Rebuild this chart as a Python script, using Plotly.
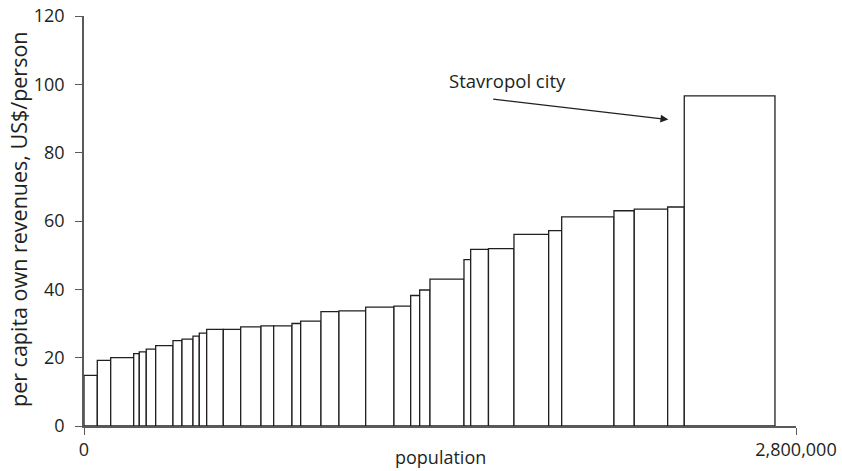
import numpy as np
import plotly.graph_objects as go

# Municipal units sorted by per capita own revenues
population = [52300, 52700, 90400, 22000, 27500, 37000, 68000, 35400, 43300, 24800,
              29100, 65300, 68400, 79800, 49900, 72000, 34200, 79800, 70800, 105000,
              111300, 65700, 35400, 40500, 133700, 26300, 70000, 100300, 136500, 51100,
              205700, 79800, 131300, 65300, 356700]
revenue_per_capita = [14.8, 19.2, 20.0, 21.2, 21.7, 22.5, 23.5, 25.0, 25.4, 26.3,
                      27.2, 28.3, 28.3, 29.0, 29.3, 29.3, 30.0, 30.7, 33.5, 33.7,
                      34.8, 35.1, 38.2, 39.8, 43.0, 48.7, 51.7, 51.9, 56.1, 57.2,
                      61.2, 63.0, 63.5, 64.1, 96.6]
x_tick_vals = [0, 2800000]
x_tick_text = ["0", "2,800,000"]
y_tick_vals = [0, 20, 40, 60, 80, 100, 120]

left_edges = np.concatenate([[0], np.cumsum(population)[:-1]])

font_family = "Open Sans, Lato, sans-serif"
ink = "#231f20"
axis_col = "#5a5a5a"

fig = go.Figure()
fig.add_trace(go.Bar(
    x=left_edges,
    y=revenue_per_capita,
    width=population,
    offset=0,
    marker=dict(color="white", line=dict(color=ink, width=1.3)),
    hoverinfo="skip",
))

fig.update_layout(
    width=842, height=471,
    margin=dict(l=84, r=46, t=16, b=45),
    paper_bgcolor="white", plot_bgcolor="white",
    showlegend=False,
    font=dict(family=font_family, color=ink, size=18),
    xaxis=dict(
        range=[0, 2800000], tickvals=x_tick_vals, ticktext=x_tick_text,
        showgrid=False, zeroline=False, showline=True, linecolor=axis_col, linewidth=1.5,
        ticks="outside", ticklen=7, tickcolor=axis_col, tickwidth=1.3,
        tickfont=dict(size=18, color=ink), ticklabelstandoff=0,
        automargin=False,
    ),
    yaxis=dict(
        range=[0, 120], tickvals=y_tick_vals,
        showgrid=False, zeroline=False, showline=True, linecolor=axis_col, linewidth=1.5,
        ticks="outside", ticklen=7, tickcolor=axis_col, tickwidth=1.3,
        tickfont=dict(size=18, color=ink), ticklabelstandoff=7,
        automargin=False,
    ),
)

# Axis titles
fig.add_annotation(
    x=0.5, y=0, xref="paper", yref="paper", yanchor="middle", yshift=-31,
    text="population", showarrow=False, font=dict(size=18, color=ink), borderpad=0,
)
fig.add_annotation(
    x=0, y=0.5, xref="paper", yref="paper", xanchor="center", yanchor="middle",
    xshift=-66, yshift=2, textangle=-90,
    text="per capita own revenues, US$/person", showarrow=False,
    font=dict(size=21.5, color=ink),
)

# Callout for the regional capital
fig.add_annotation(
    x=1667000, y=101.2, xref="x", yref="y",
    text="Stavropol city", showarrow=False, font=dict(size=18.5, color=ink),
)
fig.add_annotation(
    x=2297800, y=89.7, ax=1603300, ay=95.7, xref="x", yref="y", axref="x", ayref="y",
    text="", showarrow=True, arrowhead=2, arrowsize=1.2, arrowwidth=1.3, arrowcolor=ink,
    standoff=0, startstandoff=0,
)

fig.write_html("out.html")
